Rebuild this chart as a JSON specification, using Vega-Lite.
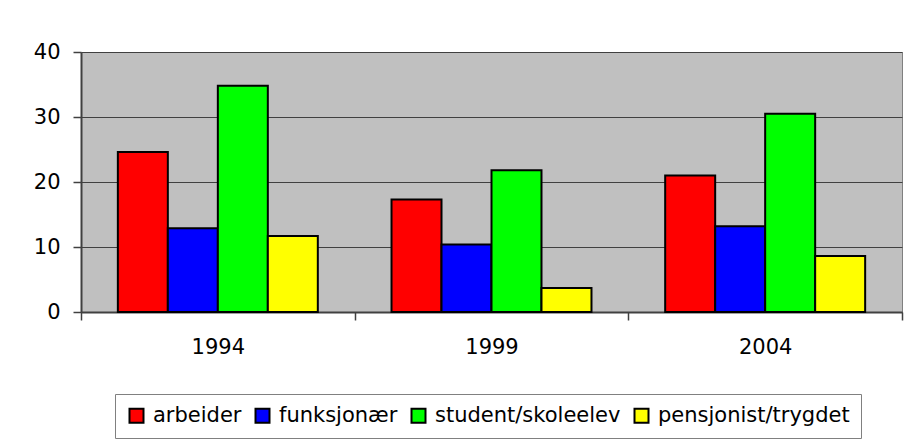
{
  "$schema": "https://vega.github.io/schema/vega-lite/v6.json",
  "width": 821,
  "height": 260,
  "autosize": {"type": "none"},
  "padding": {"left": 81, "top": 52, "right": 9, "bottom": 127},
  "background": "white",
  "data": {
    "values": [
      {"year": "1994", "kategori": "arbeider", "verdi": 24.6},
      {"year": "1994", "kategori": "funksjonær", "verdi": 12.9},
      {"year": "1994", "kategori": "student/skoleelev", "verdi": 34.8},
      {"year": "1994", "kategori": "pensjonist/trygdet", "verdi": 11.7},
      {"year": "1999", "kategori": "arbeider", "verdi": 17.3},
      {"year": "1999", "kategori": "funksjonær", "verdi": 10.4},
      {"year": "1999", "kategori": "student/skoleelev", "verdi": 21.8},
      {"year": "1999", "kategori": "pensjonist/trygdet", "verdi": 3.7},
      {"year": "2004", "kategori": "arbeider", "verdi": 21.0},
      {"year": "2004", "kategori": "funksjonær", "verdi": 13.2},
      {"year": "2004", "kategori": "student/skoleelev", "verdi": 30.5},
      {"year": "2004", "kategori": "pensjonist/trygdet", "verdi": 8.6}
    ]
  },
  "mark": {"type": "bar", "stroke": "black", "strokeWidth": 2},
  "encoding": {
    "x": {
      "field": "year",
      "type": "nominal",
      "scale": {"paddingInner": 0, "paddingOuter": 0},
      "axis": {
        "title": null,
        "labelAngle": 0,
        "tickBand": "extent",
        "grid": false,
        "domainColor": "#404040",
        "domainWidth": 2,
        "tickColor": "#404040",
        "tickSize": 8,
        "tickWidth": 1.5,
        "labelFont": "DejaVu Sans",
        "labelFontSize": 21,
        "labelColor": "black",
        "labelPadding": 16
      }
    },
    "xOffset": {
      "field": "kategori",
      "type": "nominal",
      "sort": ["arbeider", "funksjonær", "student/skoleelev", "pensjonist/trygdet"],
      "scale": {"paddingInner": 0, "paddingOuter": 0.737}
    },
    "y": {
      "field": "verdi",
      "type": "quantitative",
      "scale": {"domain": [0, 40], "nice": false},
      "axis": {
        "title": null,
        "values": [0, 10, 20, 30, 40],
        "grid": true,
        "gridColor": "#404040",
        "gridWidth": 1,
        "domainColor": "#404040",
        "domainWidth": 2,
        "tickColor": "#404040",
        "tickSize": 8,
        "tickWidth": 1.5,
        "labelFont": "DejaVu Sans",
        "labelFontSize": 21,
        "labelColor": "black",
        "labelPadding": 13
      }
    },
    "color": {
      "field": "kategori",
      "type": "nominal",
      "sort": ["arbeider", "funksjonær", "student/skoleelev", "pensjonist/trygdet"],
      "scale": {
        "domain": ["arbeider", "funksjonær", "student/skoleelev", "pensjonist/trygdet"],
        "range": ["#FF0000", "#0000FF", "#00FF00", "#FFFF00"]
      },
      "legend": {
        "title": null,
        "orient": "none",
        "legendX": 34,
        "legendY": 342,
        "direction": "horizontal",
        "symbolType": "square",
        "symbolSize": 196,
        "symbolStrokeColor": "black",
        "symbolStrokeWidth": 2,
        "symbolOpacity": 1,
        "labelFont": "DejaVu Sans",
        "labelFontSize": 21,
        "labelColor": "black",
        "labelOffset": 6,
        "labelLimit": 400,
        "columnPadding": 9,
        "padding": 11,
        "strokeColor": "#808080",
        "fillColor": "white"
      }
    }
  },
  "config": {
    "view": {"fill": "#C0C0C0", "stroke": "#808080", "strokeWidth": 1}
  }
}
